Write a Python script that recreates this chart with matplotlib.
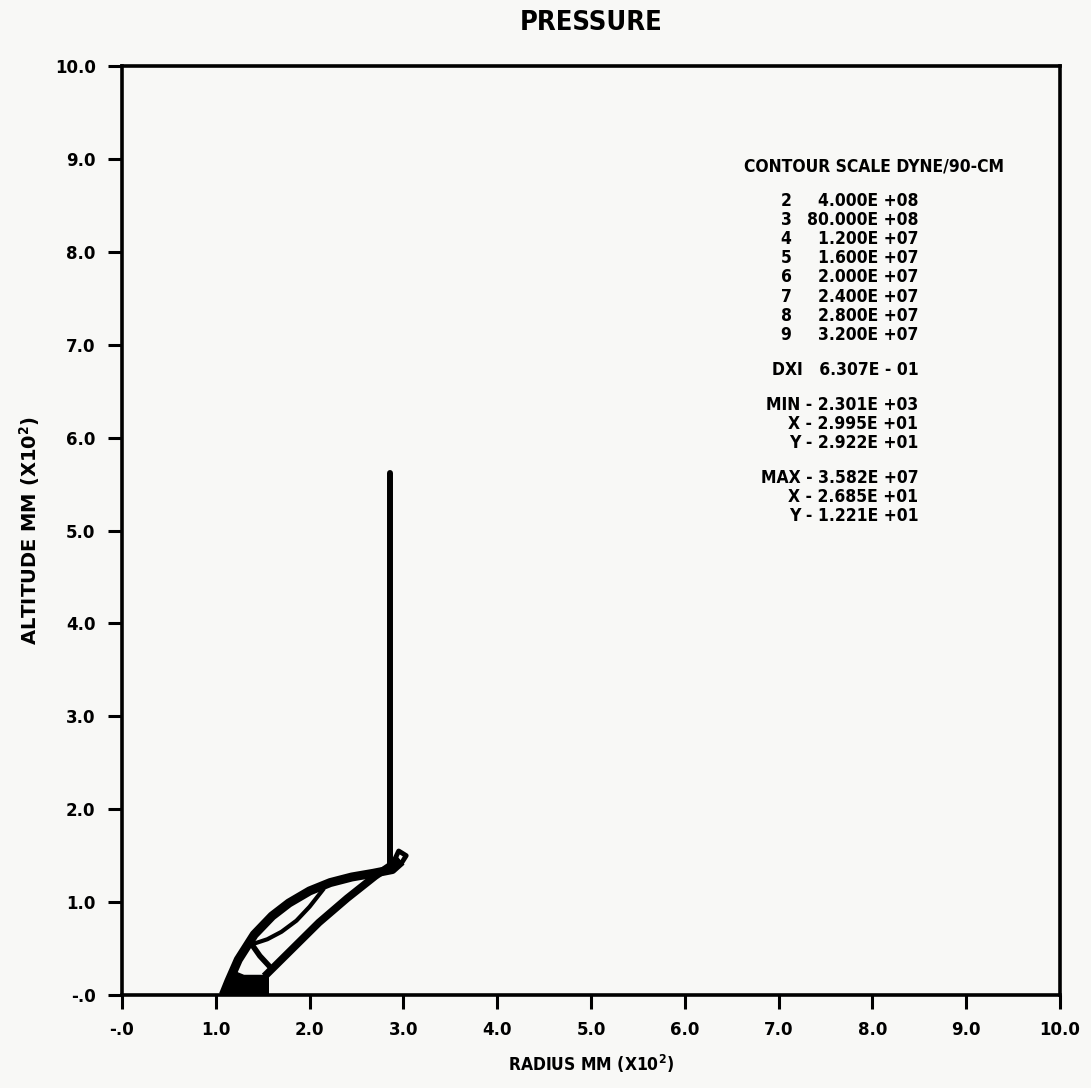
import numpy as np
import matplotlib.pyplot as plt

plt.rcParams['font.family'] = ['DejaVu Sans']
plt.rcParams['font.stretch'] = 'condensed'

# tick labels
tick_vals = np.arange(0, 11, 1)
x_tick_labels = ["-.0", "1.0", "2.0", "3.0", "4.0", "5.0", "6.0", "7.0", "8.0", "9.0", "10.0"]
y_tick_labels = ["-.0", "1.0", "2.0", "3.0", "4.0", "5.0", "6.0", "7.0", "8.0", "9.0", "10.0"]

# contour scale table
level_ids = ["2", "3", "4", "5", "6", "7", "8", "9"]
level_vals = ["4.000E +08", "80.000E +08", "1.200E +07", "1.600E +07",
              "2.000E +07", "2.400E +07", "2.800E +07", "3.200E +07"]
dxi_text = "DXI   6.307E - 01"
min_text = ["MIN - 2.301E +03", "X - 2.995E +01", "Y - 2.922E +01"]
max_text = ["MAX - 3.582E +07", "X - 2.685E +01", "Y - 1.221E +01"]

# contour traces (radius, altitude) in units of 10^2 mm
outer_x = [1.08, 1.14, 1.24, 1.41, 1.60, 1.78, 2.00, 2.22, 2.45, 2.68, 2.88, 2.98]
outer_y = [0.00, 0.15, 0.38, 0.65, 0.85, 0.99, 1.12, 1.21, 1.27, 1.31, 1.35, 1.44]
diag_x = [1.52, 1.80, 2.10, 2.40, 2.70, 2.96]
diag_y = [0.20, 0.48, 0.78, 1.04, 1.28, 1.46]
lens_x = [1.40, 1.55, 1.70, 1.86, 2.00, 2.14]
lens_y = [0.55, 0.60, 0.68, 0.80, 0.95, 1.13]
split_x = [1.38, 1.47, 1.58]
split_y = [0.55, 0.42, 0.30]
blob_x = [1.05, 1.56, 1.56, 1.30, 1.18, 1.10]
blob_y = [0.00, 0.00, 0.21, 0.21, 0.26, 0.14]
knob_x = [2.88, 2.95, 3.03, 2.98, 2.88]
knob_y = [1.40, 1.55, 1.50, 1.42, 1.40]
stem_x = [2.86, 2.86]
stem_y = [1.38, 5.62]

paper = "#f8f8f6"
fig = plt.figure(figsize=(10.91, 10.88), dpi=100, facecolor=paper)
ax = fig.add_axes([0.1118, 0.0855, 0.8598, 0.8538], facecolor=paper)

ax.plot(outer_x, outer_y, color="black", lw=6.5, solid_capstyle="butt", solid_joinstyle="round")
ax.plot(diag_x, diag_y, color="black", lw=5.5, solid_capstyle="butt", solid_joinstyle="round")
ax.plot(lens_x, lens_y, color="black", lw=3, solid_joinstyle="round")
ax.plot(split_x, split_y, color="black", lw=4)
ax.fill(blob_x, blob_y, color="black")
ax.plot(knob_x, knob_y, color="black", lw=3.5)
ax.plot(stem_x, stem_y, color="black", lw=4.3, solid_capstyle="round")

ax.set_xlim(0, 10)
ax.set_ylim(0, 10)
ax.set_xticks(tick_vals)
ax.set_yticks(tick_vals)
ax.set_xticklabels(x_tick_labels, fontweight="bold", fontsize=12, fontstretch="normal")
ax.set_yticklabels(y_tick_labels, fontweight="bold", fontsize=12, fontstretch="normal")
ax.tick_params(direction="out", length=10, width=2.2, pad=9, color="black")
for s in ax.spines.values():
    s.set_linewidth(2.6)

ax.set_xlabel(r"RADIUS MM (X10$^{\mathbf{2}}$)", fontweight="bold", fontsize=12.5, labelpad=10)
ax.set_ylabel(r"ALTITUDE MM (X10$^{\mathbf{2}}$)", fontweight="bold", fontsize=14,
              fontstretch="normal", labelpad=9)
ax.set_title("PRESSURE", fontweight="bold", fontsize=19.5, pad=26)

# contour scale block
fs = 12.5
ax.text(8.02, 8.923, "CONTOUR SCALE DYNE/90-CM", ha="center", va="center",
        fontweight="bold", fontsize=fs)
row_y = 8.547
for lid, lv in zip(level_ids, level_vals):
    ax.text(7.08, row_y, lid, ha="center", va="center", fontweight="bold", fontsize=fs)
    ax.text(8.49, row_y, lv, ha="right", va="center", fontweight="bold", fontsize=fs)
    row_y -= 0.2056
row_y += 0.2056 - 0.381
ax.text(8.49, row_y, dxi_text, ha="right", va="center", fontweight="bold", fontsize=fs)
row_y -= 0.381
for t in min_text:
    ax.text(8.49, row_y, t, ha="right", va="center", fontweight="bold", fontsize=fs)
    row_y -= 0.201
row_y += 0.201 - 0.381
for t in max_text:
    ax.text(8.49, row_y, t, ha="right", va="center", fontweight="bold", fontsize=fs)
    row_y -= 0.201

fig.savefig("out.png", dpi=100, facecolor=paper)
